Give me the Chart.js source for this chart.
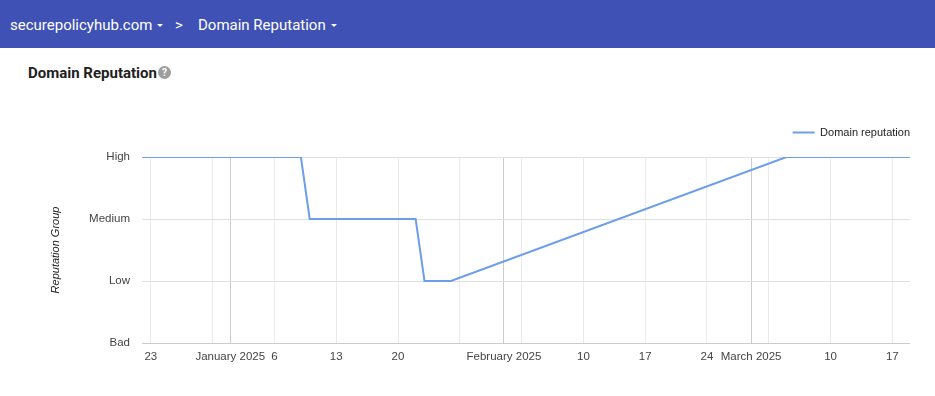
<!DOCTYPE html>
<html>
<head>
<meta charset="utf-8">
<script src="https://cdn.jsdelivr.net/npm/chart.js@4.4.1/dist/chart.umd.min.js"></script>
<style>
  body { margin: 0; width: 935px; height: 396px; background: #fff; font-family: Roboto, "Noto Sans", sans-serif; overflow: hidden; position: relative; }
  .topbar { height: 48px; background: #3f51b5; color: #fff; font-size: 15px; position: relative; }
  .topbar span { position: absolute; top: 15px; line-height: 20px; }
  .caret { display: inline-block; width: 0; height: 0; border-left: 3.5px solid transparent; border-right: 3.5px solid transparent; border-top: 3.5px solid #fff; vertical-align: middle; margin-left: 5px; margin-top: -2px; }
  .title { position: absolute; left: 28px; top: 64px; font-size: 15px; font-weight: bold; color: #212121; }
  .help { position: absolute; left: 158px; top: 66px; width: 13px; height: 13px; border-radius: 50%; background: #9e9e9e; color: #fff; font-size: 10px; font-weight: bold; text-align: center; line-height: 13px; }
  #wrap { position: absolute; left: 0; top: 96px; width: 935px; height: 300px; }
</style>
</head>
<body>
<div class="topbar">
  <span style="left:10px">securepolicyhub.com<i class="caret"></i></span>
  <span style="left:175px">&gt;</span>
  <span style="left:198px">Domain Reputation<i class="caret"></i></span>
</div>
<div class="title">Domain Reputation</div>
<div class="help">?</div>
<div id="wrap"><canvas id="repChart"></canvas></div>
<script>
const reputationGroups = ["Bad", "Low", "Medium", "High"];

// reputation readings (date, group index into reputationGroups)
const readingDates = ["2024-12-22", "2025-01-09", "2025-01-10", "2025-01-22", "2025-01-23", "2025-01-26", "2025-03-05", "2025-03-19"];
const readingLevels = [3, 3, 2, 2, 1, 1, 3, 3];

// x-axis ticks: date + label ("" = gridline only)
const tickDates = ["2024-12-23", "2024-12-30", "2025-01-01", "2025-01-06", "2025-01-13", "2025-01-20", "2025-01-27", "2025-02-01", "2025-02-03", "2025-02-10", "2025-02-17", "2025-02-24", "2025-03-01", "2025-03-03", "2025-03-10", "2025-03-17"];
const tickLabels = ["23", "", "January 2025", "6", "13", "20", "", "February 2025", "", "10", "17", "24", "March 2025", "", "10", "17"];

const axisStart = "2024-12-22";
const axisEnd = "2025-03-19";

function dayNum(s) {
  const [y, m, d] = s.split("-").map(Number);
  return Date.UTC(y, m - 1, d) / 86400000;
}

const points = readingDates.map((d, i) => ({ x: dayNum(d), y: readingLevels[i] }));
const tickVals = tickDates.map(dayNum);
const monthStarts = tickDates.filter(d => d.endsWith("-01")).map(dayNum);

// give the legend some extra room below it
const legendGap = {
  id: "legendGap",
  afterInit(chart) {
    const lg = chart.legend;
    const fit = lg.fit.bind(lg);
    lg.fit = function () { fit(); this.height += 9; };
  }
};

const tickFont = { family: "Arial, 'Liberation Sans'", size: 11.5 };

const ctx = document.getElementById("repChart").getContext("2d");
new Chart(ctx, {
  type: "line",
  data: {
    datasets: [{
      label: "Domain reputation",
      data: points,
      borderColor: "#6d9eeb",
      backgroundColor: "#6d9eeb",
      borderWidth: 2,
      pointRadius: 0,
      tension: 0
    }]
  },
  plugins: [legendGap],
  options: {
    responsive: true,
    maintainAspectRatio: false,
    animation: false,
    layout: { padding: { left: 45, right: 25, top: 31, bottom: 0 } },
    plugins: {
      tooltip: { enabled: false },
      legend: {
        position: "top",
        align: "end",
        labels: {
          usePointStyle: true,
          pointStyle: "line",
          pointStyleWidth: 22,
          color: "#222",
          font: { family: "Arial, 'Liberation Sans'", size: 11 },
          padding: 0
        }
      }
    },
    scales: {
      x: {
        type: "linear",
        min: dayNum(axisStart),
        max: dayNum(axisEnd),
        border: { display: false },
        grid: {
          drawTicks: false,
          color: c => monthStarts.includes(c.tick && c.tick.value) ? "#cccccc" : "#ebebeb",
          lineWidth: 1
        },
        afterBuildTicks: axis => { axis.ticks = tickVals.map(v => ({ value: v })); },
        afterFit: axis => { axis.height = 53; },
        ticks: {
          autoSkip: false,
          maxRotation: 0,
          padding: 7,
          color: "#444",
          font: tickFont,
          callback: v => tickLabels[tickVals.indexOf(v)]
        }
      },
      y: {
        min: 0,
        max: 3,
        border: { display: false },
        grid: {
          drawTicks: false,
          color: c => c.tick && c.tick.value === 0 ? "#cccccc" : "#e0e0e0"
        },
        afterFit: axis => { axis.width = 97; },
        ticks: {
          stepSize: 1,
          padding: 12,
          color: "#444",
          font: tickFont,
          callback: v => reputationGroups[v]
        },
        title: {
          display: true,
          text: "Reputation Group",
          color: "#222",
          padding: 4,
          font: { family: "Arial, 'Liberation Sans'", size: 11, style: "italic" }
        }
      }
    }
  }
});
</script>
</body>
</html>
